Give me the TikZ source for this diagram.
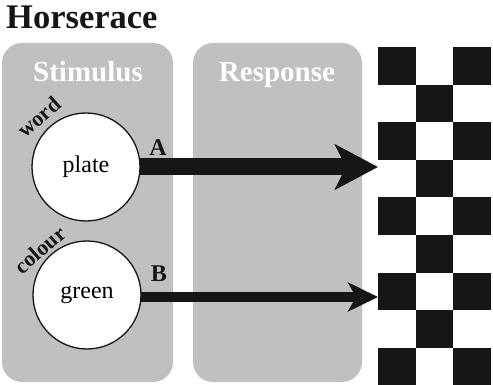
\documentclass[tikz,border=0pt]{standalone}
\usepackage{fontspec}
\setmainfont{Liberation Serif}
\usetikzlibrary{arrows.meta}
\definecolor{panelgray}{HTML}{C0C0C0}
\definecolor{ink}{HTML}{161616}
\begin{document}
\begin{tikzpicture}[x=1pt,y=-1pt,
  panel/.style={fill=panelgray,draw=none,rounded corners=20pt,inner sep=0pt},
  paneltitle/.style={text=white,font=\fontsize{29}{30}\selectfont\bfseries,inner sep=0pt,anchor=base},
  stim/.style={circle,draw=ink,line width=1.3pt,fill=white,minimum size=108pt,inner sep=0pt,font=\fontsize{24}{26}\selectfont},
  letter/.style={font=\fontsize{24}{26}\selectfont\bfseries,text=ink,inner sep=0pt},
  cue/.style={font=\fontsize{22}{24}\selectfont\bfseries,text=ink,inner sep=0pt,rotate=41},
  sq/.style={fill=ink,draw=none},
  bar/.style={draw=ink,line cap=butt}
]
\useasboundingbox (0,0) rectangle (493,385);
% title
\node[font=\fontsize{34.5}{37}\selectfont\bfseries,text=ink,anchor=base west,inner sep=0pt] (title) at (6,29) {Horserace};
% panels
\path[panel] (2,43) rectangle (173,382);
\path[panel] (193,43) rectangle (362,382);
\node[paneltitle] (stimt) at (88,82) {Stimulus};
\node[paneltitle] (respt) at (277,82) {Response};
% checkerboard
\foreach \r in {0,...,8}{
  \pgfmathtruncatemacro{\odd}{mod(\r,2)}
  \ifnum\odd=0
    \fill[ink] (378,{47+\r*37.6}) rectangle ++(37.7,37.6);
    \fill[ink] (453.4,{47+\r*37.6}) rectangle ++(37.7,37.6);
  \else
    \fill[ink] (415.7,{47+\r*37.6}) rectangle ++(37.7,37.6);
  \fi
}
% targets
\coordinate (tA) at (378,167);
\coordinate (tB) at (378,297);
% arrows (drawn before circles so circles sit on top)
\coordinate (sA) at (130,167);
\coordinate (sB) at (130,297);
\draw[bar,line width=17pt,-{Stealth[length=43pt,width=45pt,inset=11pt]}] (sA) -- (tA);
\draw[bar,line width=10pt,-{Stealth[length=30pt,width=29pt,inset=8pt]}] (sB) -- (tB);
% stimuli
\node[stim] (plate) at (86,167) {plate};
\node[stim] (green) at (87,295) {green};
\node[letter] (A) at (158,148) {A};
\node[letter] (B) at (159,274) {B};
\node[cue] (word) at (39,117) {word};
\node[cue] (colour) at (40,250) {colour};
\end{tikzpicture}
\end{document}
